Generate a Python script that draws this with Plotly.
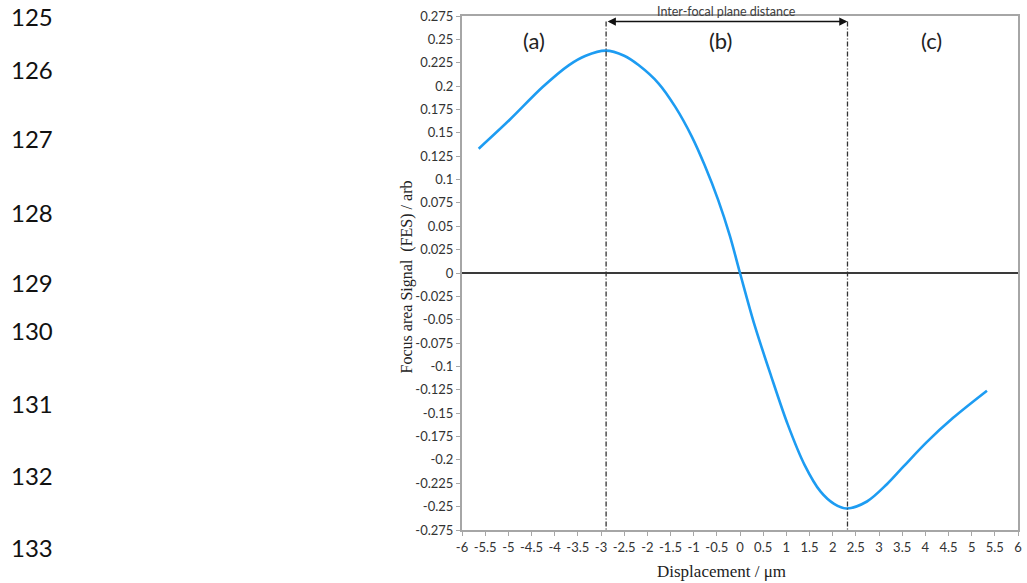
import plotly.graph_objects as go

# ---- data ----
displacement = [-5.64, -4.97, -4.26, -3.69, -3.33, -2.90, -2.50, -2.19, -1.76, -1.40,
                -1.04, -0.76, -0.47, -0.22, 0.0, 0.31, 0.67, 1.03, 1.39, 1.74,
                2.03, 2.30, 2.74, 3.17, 3.53, 4.03, 4.60, 5.33]
fes = [0.133, 0.164, 0.199, 0.2225, 0.2325, 0.238, 0.2325, 0.2225, 0.203, 0.178,
       0.146, 0.115, 0.078, 0.040, 0.0, -0.055, -0.110, -0.162, -0.205, -0.234,
       -0.247, -0.252, -0.2445, -0.226, -0.207, -0.181, -0.155, -0.126]

peak_x = -2.89
trough_x = 2.32
arrow_y = 0.269

x_tickvals = [v / 2 for v in range(-12, 13)]
x_ticktext = ["-6", "-5.5", "-5", "-4.5", "-4", "-3.5", "-3", "-2.5", "-2", "-1.5", "-1", "-0.5",
              "0", "0.5", "1", "1.5", "2", "2.5", "3", "3.5", "4", "4.5", "5", "5.5", "6"]
y_tickvals = [i * 0.025 for i in range(-11, 12)]
y_ticktext = ["-0.275", "-0.25", "-0.225", "-0.2", "-0.175", "-0.15", "-0.125", "-0.1",
              "-0.075", "-0.05", "-0.025", "0", "0.025", "0.05", "0.075", "0.1", "0.125",
              "0.15", "0.175", "0.2", "0.225", "0.25", "0.275"]

region_labels = ["(a)", "(b)", "(c)"]
region_label_x = [-4.45, -0.43, 4.14]

line_numbers = ["125", "126", "127", "128", "129", "130", "131", "132", "133"]
line_number_px = [17, 70, 138, 212, 283, 330, 403, 475, 547]

# ---- figure ----
W, H = 1027, 583
L, R, T, B = 462, 5, 16, 53
plot_h = H - T - B
plot_w = W - L - R

fig = go.Figure()
fig.add_trace(go.Scatter(
    x=displacement, y=fes, mode="lines",
    line=dict(color="#1d9cf2", width=2.6, shape="spline", smoothing=0.9),
    hoverinfo="x+y", showlegend=False,
))

# vertical dash-dot lines
for xv in (peak_x, trough_x):
    fig.add_shape(type="line", xref="x", yref="y", x0=xv, x1=xv, y0=arrow_y, y1=-0.275,
                  line=dict(color="#333333", width=1.3, dash="5px,2px,1px,2px"))

# double-headed arrow
fig.add_annotation(x=trough_x, y=arrow_y, ax=peak_x, ay=arrow_y, xref="x", yref="y",
                   axref="x", ayref="y", text="", showarrow=True, arrowhead=2,
                   startarrowhead=2, arrowside="end+start", arrowsize=1.1,
                   arrowwidth=1.5, arrowcolor="#111111", startstandoff=0, standoff=0)
fig.add_annotation(x=(peak_x + trough_x) / 2, y=1.0, xref="x", yref="paper",
                   yanchor="bottom", yshift=-5, text="Inter-focal plane distance",
                   showarrow=False, font=dict(family="Lato", size=12.5, color="#404040"))

for lab, xv in zip(region_labels, region_label_x):
    fig.add_annotation(x=xv, y=0.2485, xref="x", yref="y", text=lab, showarrow=False,
                       font=dict(family="Lato", size=22, color="#222222"))

# axis titles
fig.add_annotation(x=(407 - L) / plot_w, y=(H - B - 277) / plot_h, xref="paper", yref="paper",
                   xanchor="center", yanchor="middle",
                   text="Focus area Signal&nbsp;&nbsp;(FES) / arb", textangle=-90,
                   showarrow=False, font=dict(family="Liberation Serif", size=16, color="#222222"))
fig.add_annotation(x=(723 - L) / plot_w, y=(H - B - 571) / plot_h, xref="paper", yref="paper",
                   xanchor="center", yanchor="middle",
                   text="Displacement / μm", showarrow=False,
                   font=dict(family="Liberation Serif", size=17, color="#222222"))

# document line numbers
for txt, py in zip(line_numbers, line_number_px):
    fig.add_annotation(x=(6 - L) / plot_w, y=(H - B - py) / plot_h, xref="paper", yref="paper",
                       xanchor="left", yanchor="middle", text=txt, showarrow=False,
                       font=dict(family="Lato", size=24, color="#111111"))

axis_common = dict(showgrid=False, showline=True, linecolor="#a6a6a6", linewidth=2,
                   mirror=True, ticks="outside", ticklen=4, tickcolor="#a6a6a6",
                   tickwidth=1, tickfont=dict(family="Lato", size=13, color="#333333"))

fig.update_xaxes(range=[-6, 6], tickvals=x_tickvals, ticktext=x_ticktext,
                 zeroline=False, **axis_common)
fig.update_yaxes(range=[-0.275, 0.275], tickvals=y_tickvals, ticktext=y_ticktext,
                 zeroline=True, zerolinecolor="#3a3a3a", zerolinewidth=1.5, **axis_common)

fig.update_layout(width=W, height=H, margin=dict(l=L, r=R, t=T, b=B),
                  plot_bgcolor="white", paper_bgcolor="white")

fig.write_html("out.html")
